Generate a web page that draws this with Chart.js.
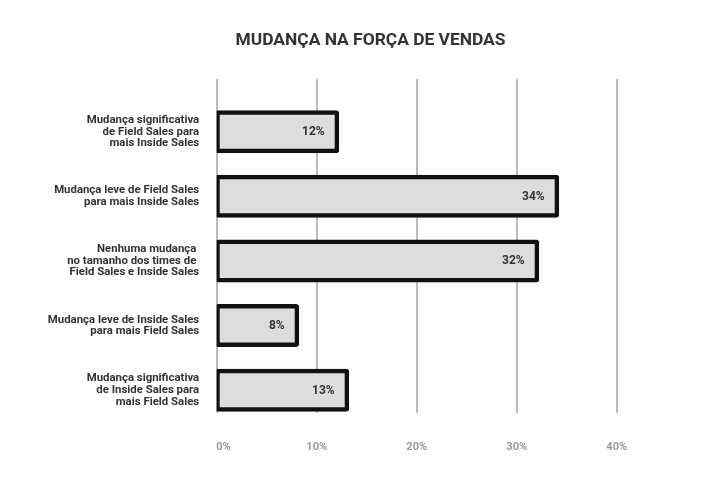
<!DOCTYPE html>
<html>
<head>
<meta charset="utf-8">
<script src="https://cdn.jsdelivr.net/npm/chart.js@4/dist/chart.umd.min.js"></script>
<style>
  html, body { margin: 0; padding: 0; background: #fff; }
  #wrap { width: 718px; height: 500px; position: relative; }
</style>
</head>
<body>
<div id="wrap"><canvas id="c" width="718" height="500"></canvas></div>
<script>
const chartTitle = 'MUDANÇA NA FORÇA DE VENDAS';
const categories = [
  ['Mudança significativa', 'de Field Sales para', 'mais Inside Sales'],
  ['Mudança leve de Field Sales', 'para mais Inside Sales'],
  ['Nenhuma mudança ', 'no tamanho dos times de ', 'Field Sales e Inside Sales'],
  ['Mudança leve de Inside Sales', 'para mais Field Sales'],
  ['Mudança significativa', 'de Inside Sales para', 'mais Field Sales']
];
const values = [12, 34, 32, 8, 13];
const xTicks = [0, 10, 20, 30, 40];
const xTickLabels = ['     0%', '10%', '20%', '30%', '40%'];

const FONT = 'Roboto, "Open Sans", sans-serif';

const titlePlugin = {
  id: 'customTitle',
  afterDraw(chart) {
    const ctx = chart.ctx;
    ctx.save();
    ctx.font = 'bold 17.4px ' + FONT;
    ctx.fillStyle = '#333333';
    ctx.textAlign = 'center';
    ctx.textBaseline = 'alphabetic';
    ctx.fillText(chartTitle, 370.5, 45);
    ctx.restore();
  }
};

const valueLabels = {
  id: 'valueLabels',
  afterDatasetsDraw(chart) {
    const ctx = chart.ctx;
    const meta = chart.getDatasetMeta(0);
    ctx.save();
    ctx.font = 'bold 12px ' + FONT;
    ctx.fillStyle = '#333333';
    ctx.textAlign = 'right';
    ctx.textBaseline = 'middle';
    meta.data.forEach((bar, i) => {
      ctx.fillText(values[i] + '%', bar.x - 12, bar.y + 0.5);
    });
    ctx.restore();
  }
};

new Chart(document.getElementById('c'), {
  type: 'bar',
  data: {
    datasets: [{
      data: values.map((v, i) => ({ x: v, y: i })),
      backgroundColor: '#dddddd',
      borderColor: '#111111',
      borderWidth: 4.5,
      borderSkipped: false,
      borderRadius: 3,
      inflateAmount: 2.5,
      barThickness: 38
    }]
  },
  options: {
    indexAxis: 'y',
    responsive: false,
    animation: false,
    devicePixelRatio: 1,
    layout: { padding: { top: 79, left: 0, right: 101.3, bottom: 0 } },
    plugins: {
      legend: { display: false },
      title: { display: false },
      tooltip: { enabled: false }
    },
    scales: {
      x: {
        type: 'linear',
        position: 'bottom',
        min: 0,
        max: 40,
        afterBuildTicks(scale) { scale.ticks = xTicks.map(v => ({ value: v })); },
        afterFit(scale) { scale.height = 86.7; },
        grid: { display: true, color: '#bbbbbb', lineWidth: 2, drawTicks: false },
        border: { display: false },
        ticks: {
          padding: 27.4,
          color: '#999999',
          font: { family: FONT, size: 11, weight: 'bold' },
          callback: (v) => xTickLabels[xTicks.indexOf(v)]
        }
      },
      y: {
        type: 'linear',
        offset: false,
        reverse: true,
        min: -0.8155,
        max: 4.358,
        afterBuildTicks(scale) { scale.ticks = categories.map((c, i) => ({ value: i })); },
        afterFit(scale) { scale.width = 216.7; },
        grid: { display: false, drawTicks: false },
        border: { display: false },
        ticks: {
          padding: 17.5,
          color: '#333333',
          font: { family: FONT, size: 11.4, weight: 'bold', lineHeight: 1.02 },
          callback: (v) => categories[v]
        }
      }
    }
  },
  plugins: [titlePlugin, valueLabels]
});
</script>
</body>
</html>
